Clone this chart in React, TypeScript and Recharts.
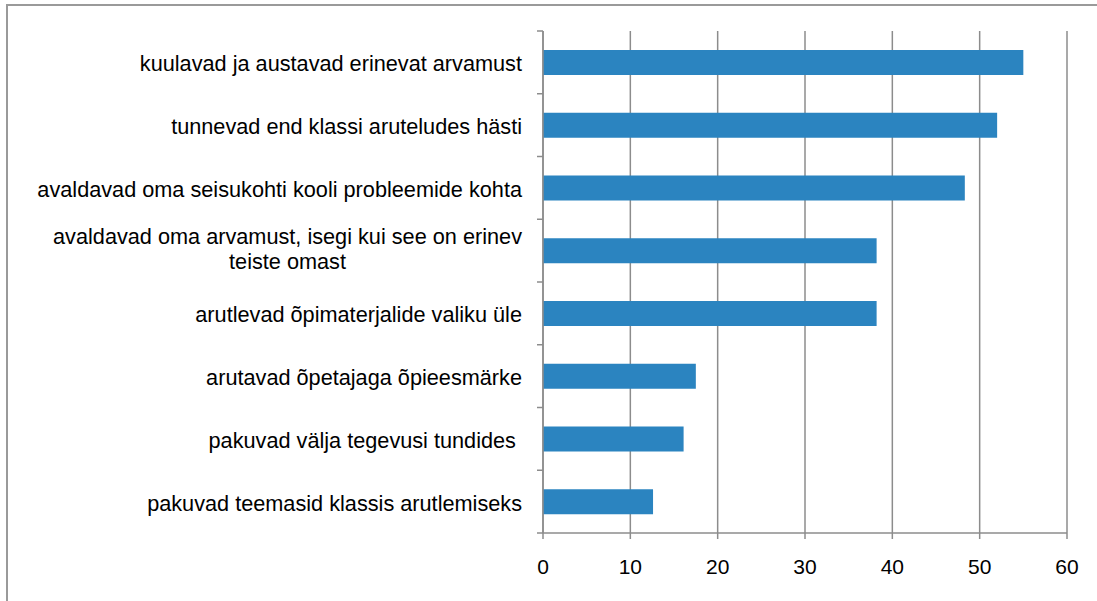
import React from "react";
import { BarChart, Bar, XAxis, YAxis, CartesianGrid } from "recharts";

const categories: string[] = [
  "kuulavad ja austavad erinevat arvamust",
  "tunnevad end klassi aruteludes hästi",
  "avaldavad oma seisukohti kooli probleemide kohta",
  "avaldavad oma arvamust, isegi kui see on erinev|teiste omast",
  "arutlevad õpimaterjalide valiku üle",
  "arutavad õpetajaga õpieesmärke",
  "pakuvad välja tegevusi tundides ",
  "pakuvad teemasid klassis arutlemiseks",
];

const values: number[] = [55.0, 52.0, 48.3, 38.2, 38.2, 17.5, 16.1, 12.6];

const xTicks: number[] = [0, 10, 20, 30, 40, 50, 60];

const data = categories.map((c, i) => ({ name: c, value: values[i] }));

const W = 1097;
const H = 601;
const M_TOP = 31;
const M_RIGHT = 30;
const M_BOTTOM = 28;
const X_AXIS_H = 40;
const Y_AXIS_W = 543;
const PLOT_H = H - M_TOP - M_BOTTOM - X_AXIS_H;
const HALF_BAND = PLOT_H / categories.length / 2;
const GRID = "#8c8c8c";
const FONT = "'Liberation Sans', Arial, sans-serif";
const FS = 21.7;

let measureCtx: CanvasRenderingContext2D | null = null;
const measure = (s: string): number => {
  if (typeof document === "undefined") return s.length * FS * 0.5;
  if (!measureCtx) measureCtx = document.createElement("canvas").getContext("2d");
  if (!measureCtx) return s.length * FS * 0.5;
  measureCtx.font = `${FS}px 'Liberation Sans', Arial, sans-serif`;
  return measureCtx.measureText(s).width;
};

const CategoryTick = (props: any) => {
  const { y, payload, index } = props;
  const lines = String(payload.value).split("|");
  const lh = 25;
  const x0 = Y_AXIS_W - 21;
  const multi = lines.length > 1;
  const startY = y - ((lines.length - 1) * lh) / 2 - (multi ? 3 : 0);
  const blockW = multi ? Math.max(...lines.map(measure)) : 0;
  const tx = multi ? x0 - blockW / 2 : x0;
  return (
    <g>
      <line x1={Y_AXIS_W - 6} x2={Y_AXIS_W} y1={y - HALF_BAND} y2={y - HALF_BAND} stroke={GRID} strokeWidth={1.5} />
      {index === categories.length - 1 && (
        <line x1={Y_AXIS_W - 6} x2={Y_AXIS_W} y1={y + HALF_BAND} y2={y + HALF_BAND} stroke={GRID} strokeWidth={1.5} />
      )}
      <text
        x={tx}
        y={startY}
        textAnchor={multi ? "middle" : "end"}
        fill="#000"
        fontSize={FS}
        fontFamily={FONT}
        style={{ whiteSpace: "pre" }}
      >
        {lines.map((l, i) => (
          <tspan key={i} x={tx} y={startY + i * lh} dy="0.42em">
            {l}
          </tspan>
        ))}
      </text>
    </g>
  );
};

export default function App() {
  return (
    <div style={{ position: "absolute", left: 0, top: 0, width: W, height: H, overflow: "hidden", background: "#fff" }}>
      <div
        style={{
          position: "absolute",
          left: 6,
          top: 4,
          width: W + 20,
          height: H + 20,
          border: "2px solid #9a9a9a",
          boxSizing: "border-box",
        }}
      />
      <div style={{ position: "absolute", left: 0, top: 0 }}>
        <BarChart
          width={W}
          height={H}
          data={data}
          layout="vertical"
          margin={{ top: M_TOP, right: M_RIGHT, bottom: M_BOTTOM, left: 0 }}
        >
          <CartesianGrid horizontal={false} vertical={true} stroke={GRID} strokeWidth={1.5} />
          <XAxis
            type="number"
            domain={[0, 60]}
            ticks={xTicks}
            interval={0}
            height={X_AXIS_H}
            axisLine={{ stroke: GRID, strokeWidth: 1.5 }}
            tickLine={{ stroke: GRID, strokeWidth: 1.5 }}
            tickSize={6}
            tickMargin={20}
            tick={{ fill: "#000", fontSize: 21, fontFamily: FONT }}
          />
          <YAxis
            type="category"
            dataKey="name"
            width={Y_AXIS_W}
            interval={0}
            axisLine={{ stroke: GRID, strokeWidth: 1.5 }}
            tickLine={false}
            tick={<CategoryTick />}
          />
          <Bar dataKey="value" fill="#2b84c0" barSize={25} isAnimationActive={false} />
        </BarChart>
      </div>
    </div>
  );
}
